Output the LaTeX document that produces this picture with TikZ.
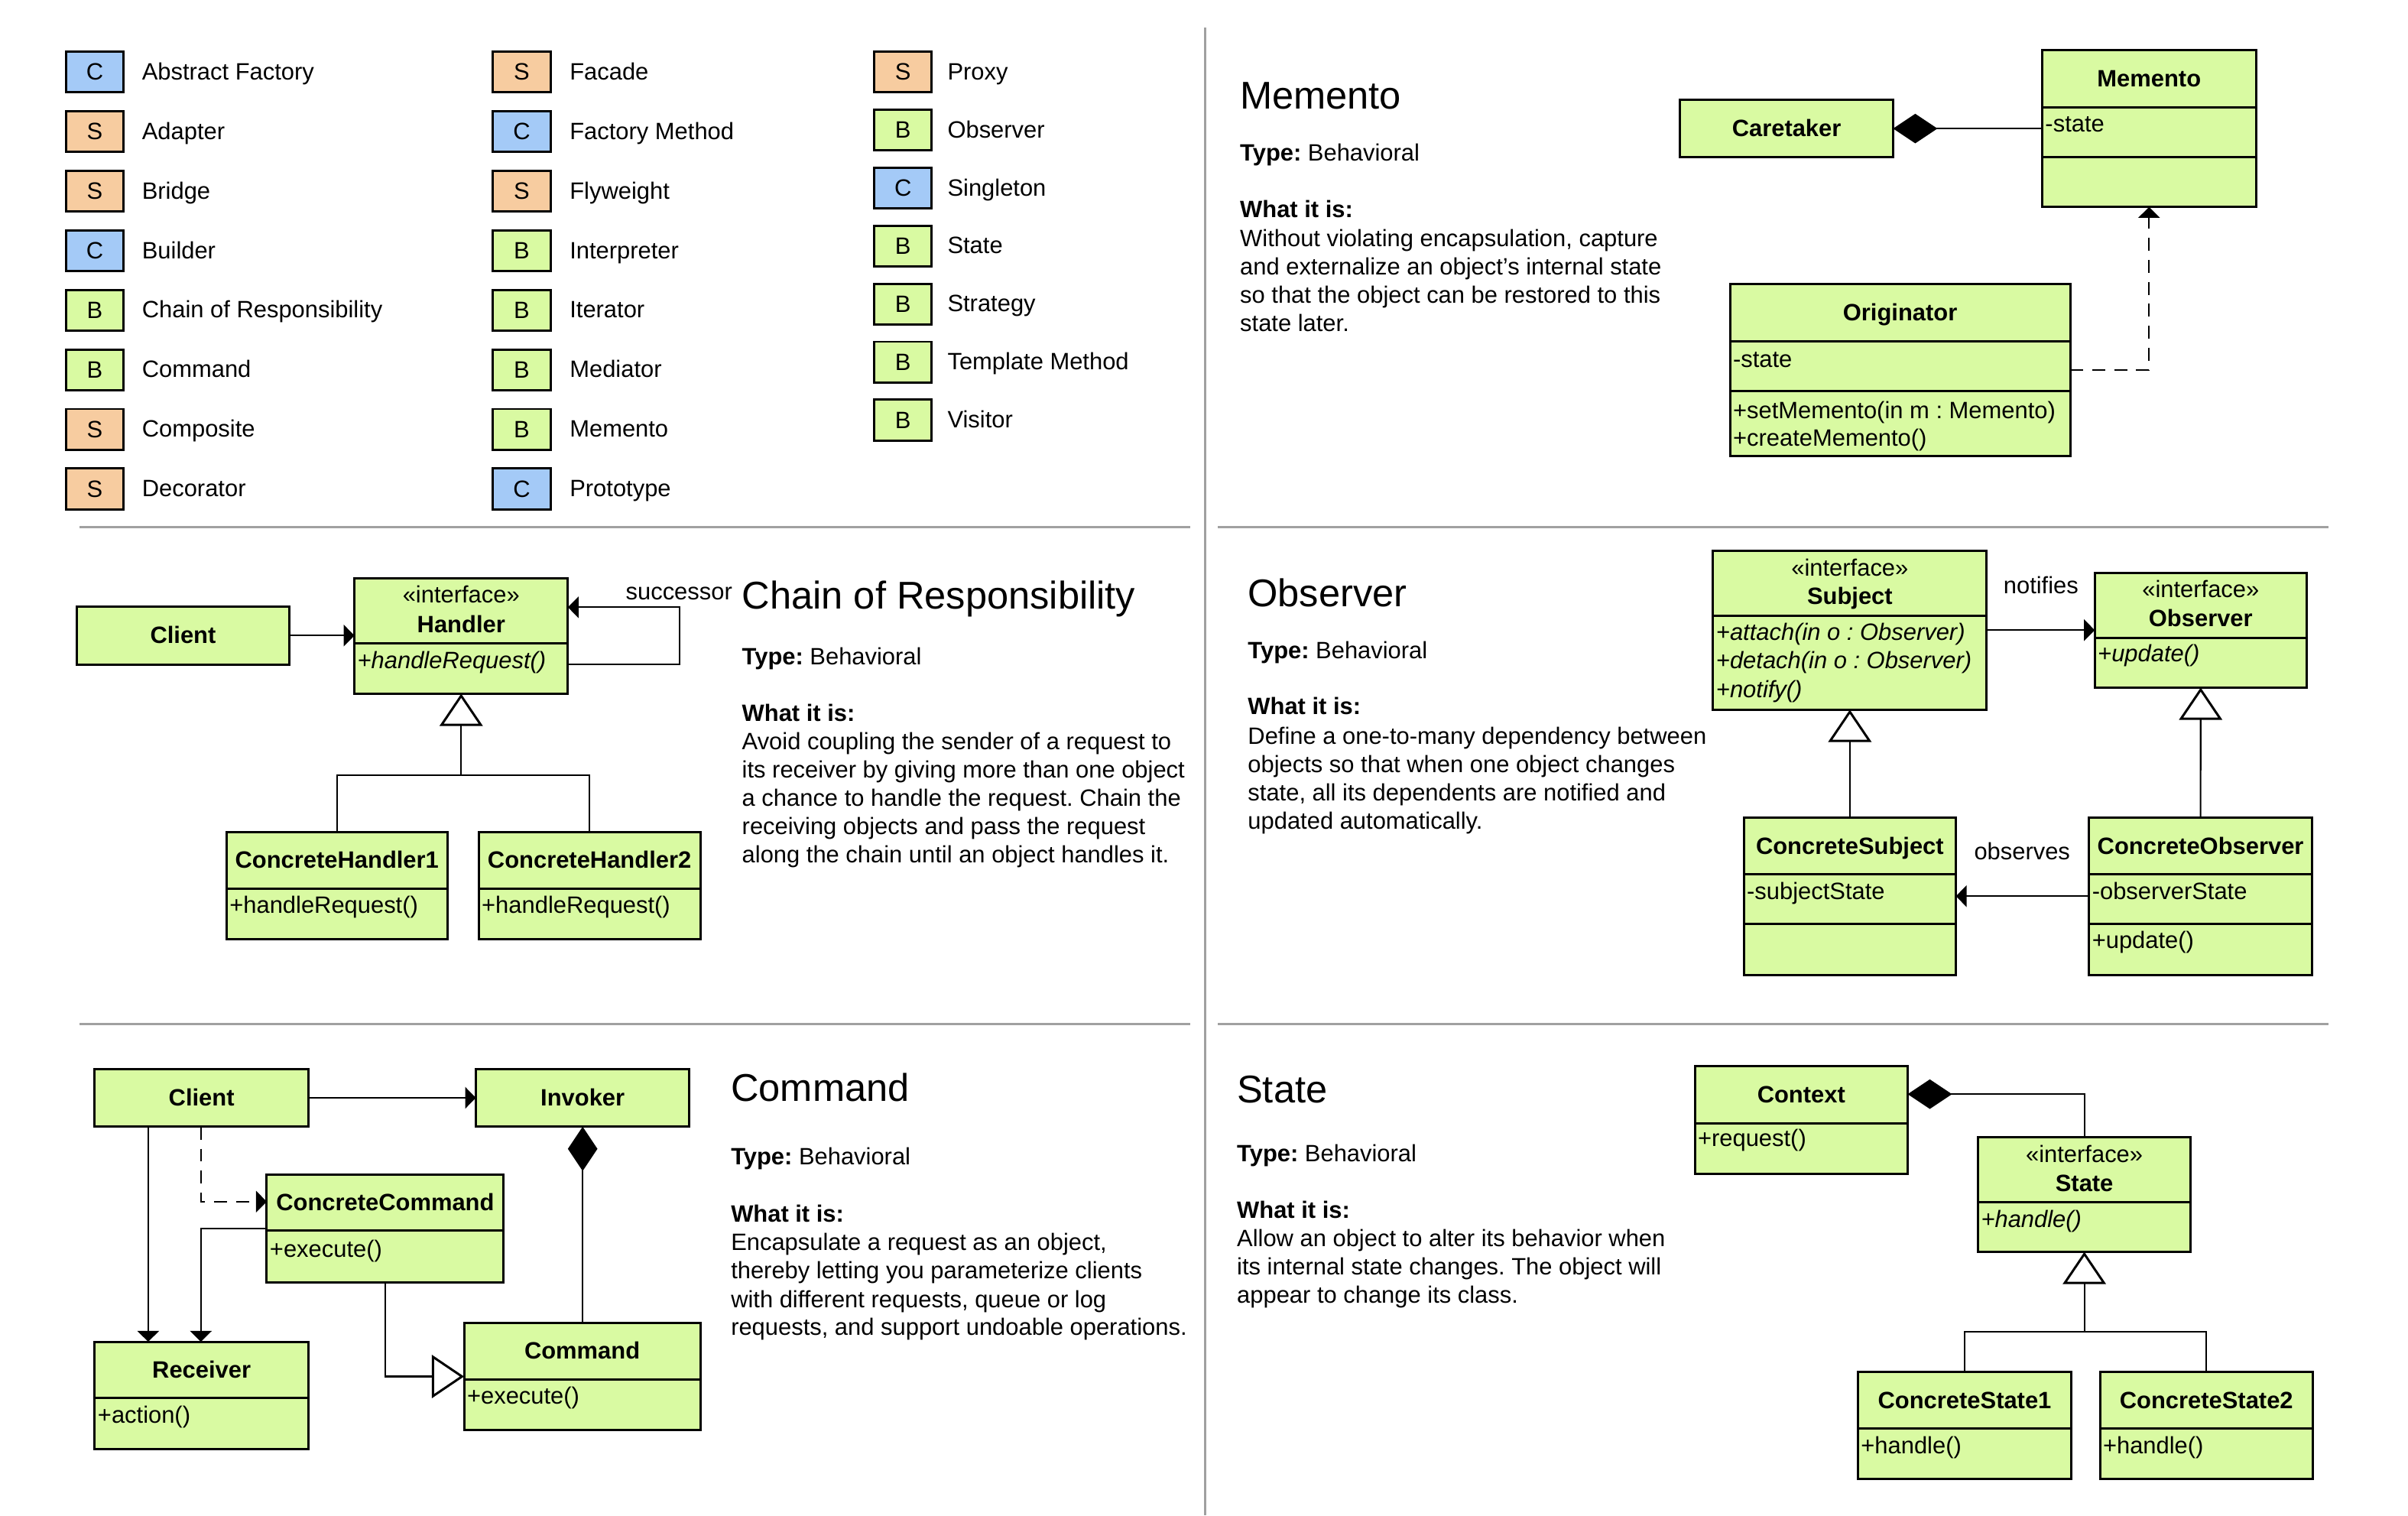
\documentclass[tikz,border=0pt]{standalone}
\usepackage{fontspec}
\setmainfont{Liberation Sans}
\usetikzlibrary{arrows.meta,fit}
\frenchspacing
\definecolor{cgreen}{RGB}{217,250,162}
\definecolor{cblue}{RGB}{164,202,247}
\definecolor{corange}{RGB}{247,204,160}
\definecolor{divgray}{RGB}{160,160,160}
\newcounter{nd}
\newcommand\LT[3]{\stepcounter{nd}\node[txt,anchor=base west] (t\arabic{nd}) at (#1,#2) {#3};}
\newcommand\CN[3]{\stepcounter{nd}\node[txt,anchor=base] (t\arabic{nd}) at (#1.center |- 0,#2) {#3};}
\newcommand\LN[3]{\stepcounter{nd}\node[txt,anchor=base west,xshift=0.04cm] (t\arabic{nd}) at (#1.west |- 0,#2) {#3};}
\newcommand\UC[5]{\node[classbox, fit={(#2,#3) (#4,#5)}] (#1) {};}
\newcommand\DV[2]{\draw[boxline] (#1.west |- 0,#2) -- (#1.east |- 0,#2);}
\newcommand\TF{\fontsize{14.4}{17}\selectfont}
\newcommand\LG[7]{\node[legbox, fill=#4] (#1) at (#2,#3) {#5}; \node[txt, anchor=base west] (#1t) at (#6,#3+5) {#7};}
\tikzset{
 txt/.style={font=\fontsize{8.8}{10.5}\selectfont\frenchspacing, inner sep=0pt, outer sep=0pt},
 classbox/.style={rectangle, draw=black, fill=cgreen, line width=0.85pt, inner sep=0pt, outer sep=0pt},
 boxline/.style={line width=0.85pt},
 legbox/.style={txt, rectangle, draw=black, line width=0.85pt, minimum width=0.7534cm, minimum height=0.5364cm},
 conn/.style={line width=0.6pt},
 assoc/.style={conn, -{Triangle[length=4pt,width=8pt]}},
 dep/.style={assoc, dash pattern=on 4.8pt off 3.4pt},
 plainline/.style={conn},
 gen/.style={conn, -{Triangle[length=12pt,width=16pt,fill=white,line width=0.85pt]}},
 comp/.style={conn, {Diamond[length=16.5pt,width=11pt]}-},
 divider/.style={draw=divgray, line width=0.85pt}
}
\begin{document}
\begin{tikzpicture}[x=0.020089cm, y=-0.020089cm]
\useasboundingbox (0,0) rectangle (1568,986.6);
\fill[white] (0,0) rectangle (1568,986.6);

% dividers
\draw[divider] (784.5,18) -- (784.5,986.6);
\draw[divider] (52,343) -- (775,343);
\draw[divider] (793,343) -- (1516,343);
\draw[divider] (52,666.7) -- (775,666.7);
\draw[divider] (793,666.7) -- (1516,666.7);

% legend
\LG{a1}{61.75}{46.85}{cblue}{C}{92.5}{Abstract Factory}
\LG{a2}{61.75}{85.65}{corange}{S}{92.5}{Adapter}
\LG{a3}{61.75}{124.45}{corange}{S}{92.5}{Bridge}
\LG{a4}{61.75}{163.25}{cblue}{C}{92.5}{Builder}
\LG{a5}{61.75}{202.05}{cgreen}{B}{92.5}{Chain of Responsibility}
\LG{a6}{61.75}{240.85}{cgreen}{B}{92.5}{Command}
\LG{a7}{61.75}{279.65}{corange}{S}{92.5}{Composite}
\LG{a8}{61.75}{318.45}{corange}{S}{92.5}{Decorator}
\LG{b1}{339.75}{46.85}{corange}{S}{371}{Facade}
\LG{b2}{339.75}{85.65}{cblue}{C}{371}{Factory Method}
\LG{b3}{339.75}{124.45}{corange}{S}{371}{Flyweight}
\LG{b4}{339.75}{163.25}{cgreen}{B}{371}{Interpreter}
\LG{b5}{339.75}{202.05}{cgreen}{B}{371}{Iterator}
\LG{b6}{339.75}{240.85}{cgreen}{B}{371}{Mediator}
\LG{b7}{339.75}{279.65}{cgreen}{B}{371}{Memento}
\LG{b8}{339.75}{318.45}{cblue}{C}{371}{Prototype}
\LG{c1}{588}{46.85}{corange}{S}{617}{Proxy}
\LG{c2}{588}{84.65}{cgreen}{B}{617}{Observer}
\LG{c3}{588}{122.45}{cblue}{C}{617}{Singleton}
\LG{c4}{588}{160.25}{cgreen}{B}{617}{State}
\LG{c5}{588}{198.05}{cgreen}{B}{617}{Strategy}
\LG{c6}{588}{235.85}{cgreen}{B}{617}{Template Method}
\LG{c7}{588}{273.65}{cgreen}{B}{617}{Visitor}

% ---------- Memento ----------
\LT{807.5}{71}{\TF Memento}
\LT{807.5}{104.7}{\textbf{Type:} Behavioral}
\LT{807.5}{141.8}{\textbf{What it is:}}
\LT{807.5}{160.3}{Without violating encapsulation, capture}
\LT{807.5}{178.8}{and externalize an object's internal state}
\LT{807.5}{197.2}{so that the object can be restored to this}
\LT{807.5}{215.7}{state later.}

\UC{caretaker}{1094}{65}{1232.7}{102.4}
\CN{caretaker}{88.6}{\textbf{Caretaker}}
\UC{memento}{1329.8}{32.5}{1469}{134.8}
\DV{memento}{69.8}\DV{memento}{102.2}
\CN{memento}{56.4}{\textbf{Memento}}
\LN{memento}{86}{-state}
\UC{originator}{1126.5}{185}{1348}{297}
\DV{originator}{222.4}\DV{originator}{254.8}
\CN{originator}{209}{\textbf{Originator}}
\LN{originator}{239}{-state}
\LN{originator}{272.3}{+setMemento(in m : Memento)}
\LN{originator}{290.5}{+createMemento()}
\draw[comp] (caretaker.east) -- (memento.west |- caretaker.east);
\draw[dep] (originator.east |- 0,240.9) -| (memento.south);

% ---------- Chain of Responsibility ----------
\LT{483.2}{396.5}{\TF Chain of Responsibility}
\LT{483.2}{433}{\textbf{Type:} Behavioral}
\LT{483.2}{469.4}{\textbf{What it is:}}
\LT{483.2}{487.9}{Avoid coupling the sender of a request to}
\LT{483.2}{506.3}{its receiver by giving more than one object}
\LT{483.2}{524.8}{a chance to handle the request. Chain the}
\LT{483.2}{543.2}{receiving objects and pass the request}
\LT{483.2}{561.7}{along the chain until an object handles it.}

\UC{client}{49.9}{395}{188.5}{432.6}
\CN{client}{419.1}{\textbf{Client}}
\UC{handler}{230.8}{376.5}{369.8}{451.7}
\DV{handler}{418.8}
\CN{handler}{392.6}{«interface»}
\CN{handler}{411.7}{\textbf{Handler}}
\LN{handler}{435.5}{\textit{+handleRequest()}}
\UC{ch1}{147.5}{541.6}{291.3}{611.3}
\DV{ch1}{578.6}
\CN{ch1}{565.4}{\textbf{ConcreteHandler1}}
\LN{ch1}{594.5}{+handleRequest()}
\UC{ch2}{311.7}{541.6}{456}{611.3}
\DV{ch2}{578.6}
\CN{ch2}{565.4}{\textbf{ConcreteHandler2}}
\LN{ch2}{594.5}{+handleRequest()}
\draw[assoc] (client.east) -- (handler.west |- client.east);
\coordinate (loopa) at (442.7,432.6);
\coordinate (loopb) at (442.7,395.4);
\draw[assoc] (handler.east |- loopa) -- (loopa) -- (loopb) -- (handler.east |- loopb);
\LT{407.5}{390.6}{successor}
\coordinate (chjoin) at (handler.south |- 0,504.7);
\draw[plainline] (ch1.north) |- (chjoin) -| (ch2.north);
\draw[gen] (chjoin) -- (handler.south);

% ---------- Observer ----------
\LT{812.6}{395}{\TF Observer}
\LT{812.6}{429}{\textbf{Type:} Behavioral}
\LT{812.6}{465.4}{\textbf{What it is:}}
\LT{812.6}{484.5}{Define a one-to-many dependency between}
\LT{812.6}{502.9}{objects so that when one object changes}
\LT{812.6}{521.4}{state, all its dependents are notified and}
\LT{812.6}{539.8}{updated automatically.}

\UC{subject}{1115.5}{358.6}{1293.6}{462.1}
\DV{subject}{401}
\CN{subject}{374.9}{«interface»}
\CN{subject}{393.6}{\textbf{Subject}}
\LN{subject}{416.8}{\textit{+attach(in o : Observer)}}
\LN{subject}{435.5}{\textit{+detach(in o : Observer)}}
\LN{subject}{454.2}{\textit{+notify()}}
\UC{observer}{1364}{372.9}{1502}{447.7}
\DV{observer}{415.2}
\CN{observer}{389.2}{«interface»}
\CN{observer}{407.8}{\textbf{Observer}}
\LN{observer}{431}{\textit{+update()}}
\UC{csubj}{1135.5}{532.4}{1273.6}{634.7}
\DV{csubj}{569.2}\DV{csubj}{601.6}
\CN{csubj}{556.1}{\textbf{ConcreteSubject}}
\LN{csubj}{585.5}{-subjectState}
\UC{cobs}{1360.3}{532.4}{1505.5}{634.7}
\DV{cobs}{569.2}\DV{cobs}{601.6}
\CN{cobs}{556.1}{\textbf{ConcreteObserver}}
\LN{cobs}{585.5}{-observerState}
\LN{cobs}{617.5}{+update()}
\coordinate (notif) at (1330,410.3);
\draw[assoc] (subject.east |- notif) -- (observer.west |- notif);
\LT{1304.6}{386.7}{notifies}
\draw[gen] (csubj.north) -- (subject.south);
\draw[gen] (cobs.north) -- (observer.south);
\coordinate (obsv) at (1320,583.5);
\draw[assoc] (cobs.west |- obsv) -- (csubj.east |- obsv);
\LT{1285.5}{559.9}{observes}

% ---------- Command ----------
\LT{476}{717}{\TF Command}
\LT{476}{758.4}{\textbf{Type:} Behavioral}
\LT{476}{795.8}{\textbf{What it is:}}
\LT{476}{814.3}{Encapsulate a request as an object,}
\LT{476}{832.7}{thereby letting you parameterize clients}
\LT{476}{851.2}{with different requests, queue or log}
\LT{476}{869.6}{requests, and support undoable operations.}

\UC{cclient}{61.7}{696}{200.8}{733.6}
\CN{cclient}{720.1}{\textbf{Client}}
\UC{invoker}{309.9}{696}{448.9}{733.6}
\CN{invoker}{720.1}{\textbf{Invoker}}
\UC{cc}{173.7}{765}{328}{835.1}
\DV{cc}{801}
\CN{cc}{788.3}{\textbf{ConcreteCommand}}
\LN{cc}{818.4}{+execute()}
\UC{receiver}{61.7}{873.6}{200.8}{943.4}
\DV{receiver}{910}
\CN{receiver}{897.1}{\textbf{Receiver}}
\LN{receiver}{926.5}{+action()}
\UC{command}{302.2}{861.3}{456}{931.2}
\DV{command}{898}
\CN{command}{885}{\textbf{Command}}
\LN{command}{914}{+execute()}
\draw[assoc] (cclient.east) -- (invoker.west);
\coordinate (rxa) at (96.5,800);
\coordinate (rxb) at (130.8,782.4);
\coordinate (rxc) at (130.8,800);
\draw[assoc] (cclient.south -| rxa) -- (receiver.north -| rxa);
\draw[dep] (cclient.south -| rxb) |- (cc.west |- rxb);
\draw[assoc] (cc.west |- rxc) -| (receiver.north -| rxc);
\draw[gen] (cc.south) |- (command.west);
\draw[comp] (invoker.south) -- (invoker.south |- command.north);

% ---------- State ----------
\LT{805.5}{718}{\TF State}
\LT{805.5}{756.6}{\textbf{Type:} Behavioral}
\LT{805.5}{793.2}{\textbf{What it is:}}
\LT{805.5}{811.7}{Allow an object to alter its behavior when}
\LT{805.5}{830.1}{its internal state changes. The object will}
\LT{805.5}{848.6}{appear to change its class.}

\UC{context}{1103.6}{694.2}{1242.2}{764.1}
\DV{context}{731.6}
\CN{context}{718.2}{\textbf{Context}}
\LN{context}{746.4}{+request()}
\UC{state}{1288}{740.6}{1426.5}{815.1}
\DV{state}{782.6}
\CN{state}{757}{«interface»}
\CN{state}{775.7}{\textbf{State}}
\LN{state}{799}{\textit{+handle()}}
\UC{cs1}{1209.8}{893.3}{1348.8}{962.8}
\DV{cs1}{930.3}
\CN{cs1}{917.1}{\textbf{ConcreteState1}}
\LN{cs1}{946.5}{+handle()}
\UC{cs2}{1367.4}{893.3}{1506}{962.8}
\DV{cs2}{930.3}
\CN{cs2}{917.1}{\textbf{ConcreteState2}}
\LN{cs2}{946.5}{+handle()}
\coordinate (ctxd) at (1250,712.4);
\draw[comp] (context.east |- ctxd) -| (state.north);
\coordinate (stjoin) at (state.south |- 0,867.3);
\draw[plainline] (cs1.north) |- (stjoin) -| (cs2.north);
\draw[gen] (stjoin) -- (state.south);
\end{tikzpicture}
\end{document}
